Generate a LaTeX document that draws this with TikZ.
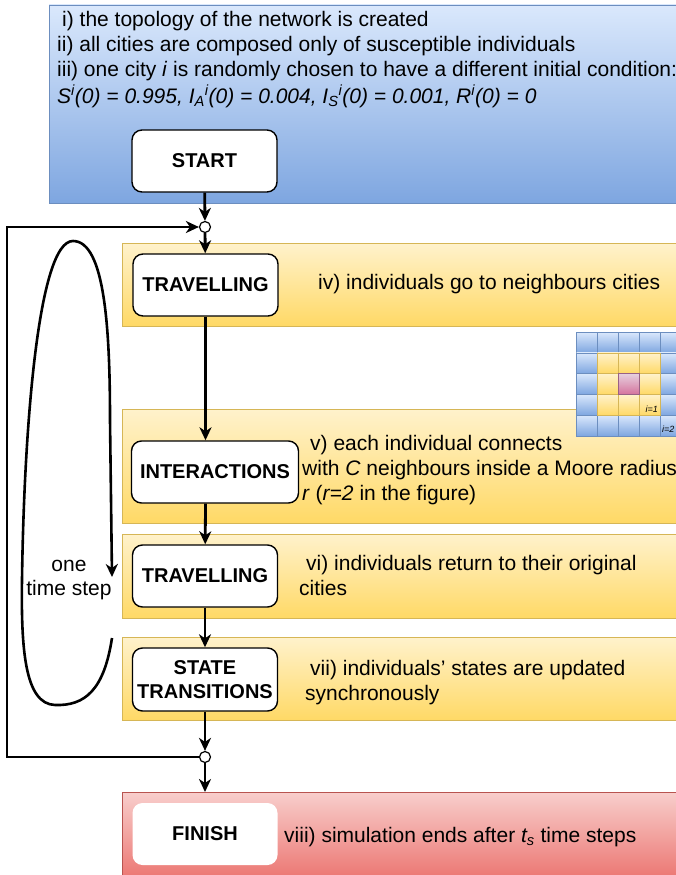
\documentclass[tikz,border=0pt]{standalone}
\usepackage{fontspec}
\setmainfont{Liberation Sans}
\usetikzlibrary{arrows.meta}
\definecolor{bluetop}{HTML}{DAE8FC}
\definecolor{bluebot}{HTML}{7EA6E0}
\definecolor{blueline}{HTML}{6C8EBF}
\definecolor{yeltop}{HTML}{FFF2CC}
\definecolor{yelbot}{HTML}{FFD966}
\definecolor{yelline}{HTML}{D6B656}
\definecolor{redtop}{HTML}{F8CECC}
\definecolor{redbot}{HTML}{EA6B66}
\definecolor{redline}{HTML}{B85450}
\definecolor{pinktop}{HTML}{E6D0DE}
\definecolor{pinkbot}{HTML}{D5739D}
\definecolor{pinkline}{HTML}{996185}
\tikzset{
  bluebox/.style={top color=bluetop, bottom color=bluebot, draw=blueline, line width=0.8pt},
  yelbox/.style={top color=yeltop, bottom color=yelbot, draw=yelline, line width=0.8pt},
  redbox/.style={top color=redtop, bottom color=redbot, draw=redline, line width=0.8pt},
  pinkbox/.style={top color=pinktop, bottom color=pinkbot, draw=pinkline, line width=0.6pt},
  bluecell/.style={top color=bluetop, bottom color=bluebot, draw=blueline, line width=0.6pt},
  yelcell/.style={top color=yeltop, bottom color=yelbot, draw=yelline, line width=0.6pt},
  body/.style={anchor=base west, inner sep=0pt, font=\fontsize{21}{25}\selectfont},
  stepbox/.style={draw=black, line width=1.4pt, rounded corners=10pt, fill=white,
    minimum width=145pt, minimum height=62pt, inner sep=0pt, align=center,
    font=\fontsize{20}{24}\selectfont\bfseries},
  junction/.style={circle, draw=black, fill=white, line width=1.2pt, minimum size=11pt, inner sep=0pt},
  arr/.style={line width=2.8pt, -{Stealth[length=13pt,width=12pt,inset=4pt]}},
  celllabel/.style={inner sep=0pt, font=\fontsize{9}{10}\selectfont\itshape},
}
\begin{document}
\begin{tikzpicture}[x=1pt,y=-1pt]
\useasboundingbox (0,0) rectangle (676,875);
\fill[white] (0,0) rectangle (676,875);
\clip (0,0) rectangle (676,875);

% background boxes
\path[bluebox] (49,5) rectangle (690,203);
\path[yelbox] (122,243) rectangle (690,326);
\path[yelbox] (122,409) rectangle (690,523);
\path[yelbox] (122,534) rectangle (690,618);
\path[yelbox] (122,637) rectangle (690,720);
\path[redbox] (122,792) rectangle (690,890);

% Moore neighbourhood grid
\foreach \c in {0,...,4}{
  \foreach \r in {0,...,4}{
    \path[bluecell] ({576.7+20.8*\c},{332+20.8*\r}) rectangle ++(20.8,20.8);
  }
}
\foreach \c/\r in {1/1,2/1,3/1,1/2,3/2,1/3,2/3,3/3}{
  \path[yelcell] ({576.7+20.8*\c},{332+20.8*\r}) rectangle ++(20.8,20.8);
}
\path[pinkbox] ({576.7+20.8*2},{332+20.8*2}) rectangle ++(20.8,20.8);
\node[celllabel, anchor=base east] (lab1) at (658,412) {i=1};
\node[celllabel, anchor=base west] (lab2) at (662,432) {i=2};

% texts in the blue box
\node[body] (t1) at (62,27) {i) the topology of the network is created};
\node[body] (t2) at (57,52) {ii) all cities are composed only of susceptible individuals};
\node[body] (t3) at (57,77) {iii) one city \textit{i} is randomly chosen to have a different initial condition:};
\node[body] (t4) at (57,103) {\textit{S\textsuperscript{i}(0) = 0.995, I\textsubscript{A}\textsuperscript{i}(0) = 0.004, I\textsubscript{S}\textsuperscript{i}(0) = 0.001, R\textsuperscript{i}(0) = 0}};

% step nodes
\node[stepbox] (start) at (204.5,161) {START};
\node[stepbox] (trav1) at (205.5,285) {TRAVELLING};
\node[stepbox, minimum width=167pt] (inter) at (215,472) {INTERACTIONS};
\node[stepbox] (trav2) at (205,576) {TRAVELLING};
\node[stepbox, minimum height=63pt] (state) at (205,679.5) {STATE\\TRANSITIONS};
\node[stepbox, draw=none] (finish) at (205,834) {FINISH};

% descriptions
\node[body] (d4) at (318,289) {iv) individuals go to neighbours cities};
\node[body] (d5a) at (310,450) {v) each individual connects};
\node[body] (d5b) at (302,475) {with \textit{C} neighbours inside a Moore radius};
\node[body] (d5c) at (302,500) {\textit{r} (\textit{r=2} in the figure)};
\node[body] (d6a) at (306,570) {vi) individuals return to their original};
\node[body] (d6b) at (299,595) {cities};
\node[body] (d7a) at (310,675) {vii) individuals{\char"0027} states are updated};
\node[body] (d7b) at (305,700) {synchronously};
\node[body] (d8) at (284,842) {viii) simulation ends after \textit{t\textsubscript{s}} time steps};

% one time step loop
\node[anchor=base, inner sep=0pt, align=center, font=\fontsize{21}{24}\selectfont] (onestep) at (69,595) {one\\time step};

% junctions
\node[junction] (ja) at (205,227) {};
\node[junction] (jb) at (205,757) {};
\coordinate (lt) at (7,227);
\coordinate (lb) at (7,757);
\coordinate (redin) at (205,792);

% connectors
\draw[arr] (start) -- (ja);
\draw[arr] (ja) -- (trav1);
\draw[arr] (trav1.south) -- (trav1.south |- inter.north);
\draw[arr] (trav1.south |- inter.south) -- (trav2);
\draw[arr] (trav2) -- (state);
\draw[arr] (state) -- (jb);
\draw[arr] (jb) -- (redin);
\draw[arr] (jb) -- (lb) -- (lt) -- (ja);

% loop curve
\coordinate (loopstart) at (112,638);
\coordinate (loopend) at (112,577);
\draw[arr, line width=2.6pt] (loopstart) .. controls (104,690) and (85,706) .. (55,705)
  .. controls (25,704) and (21,650) .. (22,580)
  .. controls (24,430) and (38,241) .. (73,241)
  .. controls (105,241) and (110,330) .. (110,420)
  -- (loopend);
\end{tikzpicture}
\end{document}
